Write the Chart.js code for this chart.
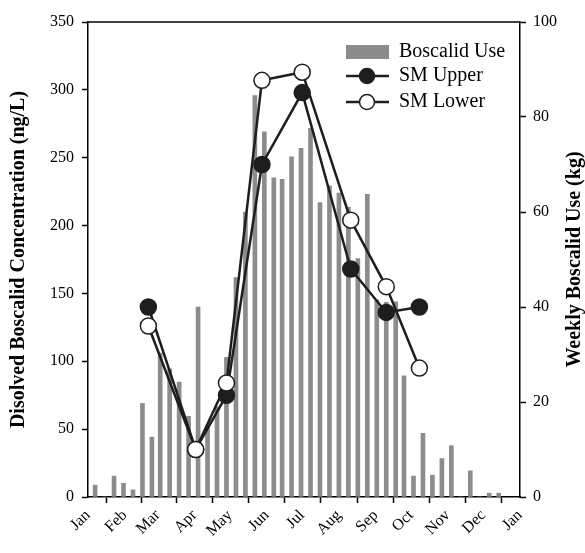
<!DOCTYPE html>
<html>
<head>
<meta charset="utf-8">
<script src="https://cdn.jsdelivr.net/npm/chart.js@4"></script>
<style>
  html, body { margin: 0; padding: 0; background: #fff; }
  #wrap { width: 585px; height: 553px; }
</style>
</head>
<body>
<div id="wrap"><canvas id="Grafico"></canvas></div>
<script>
// month ticks (day of year)
const monthDays = [0, 31, 59, 90, 120, 151, 181, 212, 243, 273, 304, 334, 365];
const monthNames = ['Jan', 'Feb', 'Mar', 'Apr', 'May', 'Jun', 'Jul', 'Aug', 'Sep', 'Oct', 'Nov', 'Dec', 'Jan'];

// weekly boscalid use (kg), day of year of each week
const useDays = [6, 14, 22, 30, 38, 46, 54, 61, 69, 77, 85, 93, 101, 109, 117, 125, 133, 141, 149, 157, 164, 172,
  180, 188, 196, 204, 212, 220, 228, 236, 244, 252, 260, 267, 275, 283, 291, 299, 307, 315, 323, 331, 339, 347];
const useKg = [2.5, 0, 4.4, 2.9, 1.5, 19.7, 12.6, 30.3, 27, 24.2, 17, 40, 15, 19, 29.4, 46.2, 60, 84.5, 76.9, 67.2, 66.9, 71.6,
  73.4, 77.6, 62, 65.5, 64, 61, 50.2, 63.7, 41.5, 41, 41.1, 25.5, 4.4, 13.4, 4.6, 8.1, 10.8, 0, 5.5, 0, 0.8, 0.8];

// sampling dates and dissolved concentrations (ng/L)
const smDays = [51, 91, 117, 147, 181, 222, 252, 280];
const smUpper = [140, 35, 75, 245, 298, 168, 136, 140];
const smLower = [126, 35, 84, 307, 313, 204, 155, 95];

const serif = "'Liberation Serif', 'Times New Roman', serif";
const barCor = '#8c8c8c';
const linhaCor = '#1e1e1e';

const pares = (xs, ys) => xs.map((x, i) => ({ x: x, y: ys[i] }));

const extras = {
  id: 'extras',
  afterDatasetsDraw(chart) {
    const ctx = chart.ctx;
    const a = chart.chartArea;
    ctx.save();
    // top border
    ctx.strokeStyle = '#000';
    ctx.lineWidth = 1.5;
    ctx.beginPath();
    ctx.moveTo(a.left, a.top);
    ctx.lineTo(a.right, a.top);
    ctx.stroke();

    // legend
    const lx = a.right - 174;
    ctx.font = '20px ' + serif;
    ctx.textBaseline = 'middle';
    ctx.textAlign = 'left';
    ctx.fillStyle = barCor;
    ctx.fillRect(lx, a.top + 23, 43, 14);
    ctx.fillStyle = '#000';
    ctx.fillText('Boscalid Use', lx + 53, a.top + 30);

    const itens = [['SM Upper', linhaCor, a.top + 54], ['SM Lower', '#fff', a.top + 80]];
    itens.forEach(([txt, fill, y]) => {
      ctx.strokeStyle = linhaCor;
      ctx.lineWidth = 2.5;
      ctx.beginPath();
      ctx.moveTo(lx, y);
      ctx.lineTo(lx + 43, y);
      ctx.stroke();
      ctx.beginPath();
      ctx.arc(lx + 21, y, 7.5, 0, Math.PI * 2);
      ctx.fillStyle = fill;
      ctx.fill();
      ctx.lineWidth = 1.5;
      ctx.stroke();
      ctx.fillStyle = '#000';
      ctx.fillText(txt, lx + 53, y);
    });
    ctx.restore();
  },
  afterDraw(chart) {
    const ctx = chart.ctx;
    const a = chart.chartArea;
    const cy = (a.top + a.bottom) / 2;
    ctx.save();
    ctx.font = 'bold 20px ' + serif;
    ctx.fillStyle = '#000';
    ctx.textAlign = 'center';
    ctx.textBaseline = 'middle';
    ctx.translate(19, cy);
    ctx.rotate(-Math.PI / 2);
    ctx.fillText('Disolved Boscalid Concentration (ng/L)', 0, 0);
    ctx.restore();
    ctx.save();
    ctx.font = 'bold 20px ' + serif;
    ctx.fillStyle = '#000';
    ctx.textAlign = 'center';
    ctx.textBaseline = 'middle';
    ctx.translate(575, cy);
    ctx.rotate(-Math.PI / 2);
    ctx.fillText('Weekly Boscalid Use (kg)', 0, 0);
    ctx.restore();
  }
};

const eixo = {
  drawOnChartArea: false,
  drawTicks: true,
  tickLength: 6,
  tickWidth: 1.5,
  color: '#000'
};

const ctxG = document.getElementById('Grafico').getContext('2d');
var myChart = new Chart(ctxG, {
  type: 'bar',
  data: {
    datasets: [
      {
        type: 'line',
        label: 'SM Lower',
        data: pares(smDays, smLower),
        yAxisID: 'y',
        borderColor: linhaCor,
        borderWidth: 2.5,
        pointRadius: 8,
        pointBackgroundColor: '#fff',
        pointBorderColor: linhaCor,
        pointBorderWidth: 1.5,
        tension: 0,
        order: 0
      },
      {
        type: 'line',
        label: 'SM Upper',
        data: pares(smDays, smUpper),
        yAxisID: 'y',
        borderColor: linhaCor,
        borderWidth: 2.5,
        pointRadius: 8,
        pointBackgroundColor: linhaCor,
        pointBorderColor: linhaCor,
        pointBorderWidth: 1.5,
        tension: 0,
        order: 1
      },
      {
        type: 'bar',
        label: 'Boscalid Use',
        data: pares(useDays, useKg),
        yAxisID: 'y1',
        backgroundColor: barCor,
        barThickness: 4,
        order: 2
      }
    ]
  },
  options: {
    responsive: true,
    maintainAspectRatio: false,
    animation: false,
    layout: { padding: { top: 22, left: 0, right: 0, bottom: 0 } },
    plugins: {
      legend: { display: false },
      tooltip: { enabled: false }
    },
    scales: {
      x: {
        type: 'linear',
        min: 0,
        max: 365,
        offset: false,
        afterBuildTicks: (s) => { s.ticks = monthDays.map(v => ({ value: v })); },
        afterFit: (s) => { s.height = 56; },
        ticks: {
          autoSkip: false,
          minRotation: 45,
          maxRotation: 45,
          padding: 3,
          color: '#000',
          font: { family: serif, size: 16 },
          callback: (v, i) => monthNames[i]
        },
        grid: eixo,
        border: { color: '#000', width: 1.5 }
      },
      y: {
        position: 'left',
        min: 0,
        max: 350,
        afterFit: (s) => { s.width = 88; },
        ticks: {
          stepSize: 50,
          padding: 8,
          color: '#000',
          font: { family: serif, size: 16 }
        },
        grid: eixo,
        border: { color: '#000', width: 1.5 }
      },
      y1: {
        position: 'right',
        min: 0,
        max: 100,
        afterFit: (s) => { s.width = 65; },
        ticks: {
          stepSize: 20,
          padding: 7,
          color: '#000',
          font: { family: serif, size: 16 }
        },
        grid: eixo,
        border: { color: '#000', width: 1.5 }
      }
    }
  },
  plugins: [extras]
});
</script>
</body>
</html>
